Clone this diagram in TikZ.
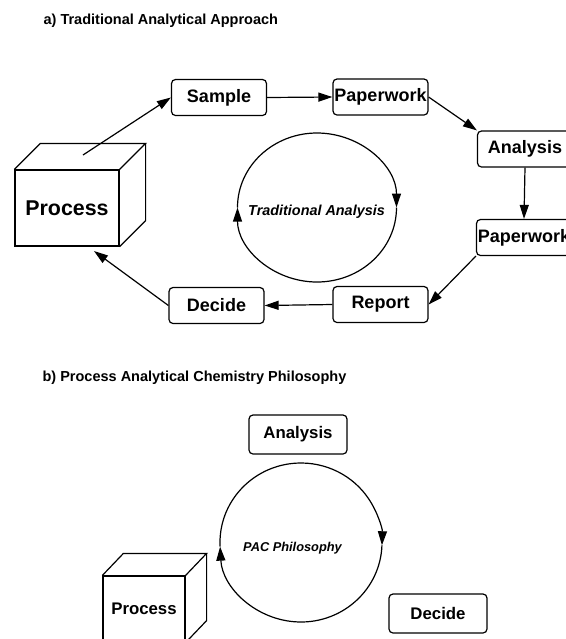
\documentclass[tikz,border=0pt]{standalone}
\usepackage{fontspec}
\setmainfont{Liberation Sans}
\usepackage{tikz}
\usetikzlibrary{arrows.meta,positioning,calc}

\begin{document}
\begin{tikzpicture}[x=0.5pt, y=0.5pt, line width=0.6pt,
            box/.style={draw, rectangle, rounded corners=2pt, minimum width=47.5pt, minimum height=18pt,
                 inner sep=0pt, align=center, font=\fontsize{9}{10}\selectfont\bfseries},
            boxb/.style={box, minimum width=49pt, minimum height=19.5pt, font=\fontsize{8.4}{10}\selectfont\bfseries},
            cube/.style={draw, rectangle, inner sep=0pt, font=\fontsize{10.7}{12}\selectfont\bfseries},
            title/.style={anchor=west, inner sep=0pt, font=\fontsize{7.25}{8}\selectfont\bfseries},
            loop/.style={inner sep=0pt, font=\fontsize{7.2}{8}\selectfont\bfseries\itshape},
            >={Triangle[length=7pt, width=4.5pt]}
            ]
            \path[use as bounding box, clip] (0,0) rectangle (566,-639);

            % a) traditional approach
            \node[title] (titlea) at (43,-20.5) {a) Traditional Analytical Approach};

            \node[cube, minimum width=52pt, minimum height=38pt] (proca) at (67,-208) {Process};
            \draw (proca.north west) -- ++(26,26) -- ($(proca.north east)+(26,26)$) -- (proca.north east);
            \draw ($(proca.north east)+(26,26)$) -- ($(proca.south east)+(26,26)$) -- (proca.south east);
            \coordinate (procatop) at (83,-155);
            \coordinate (procabot) at (94,-251);

            \node[box] (sample) at (219,-97.5) {Sample};
            \node[box] (papera) at (380.5,-97) {Paperwork};
            \node[box] (analysisa) at (525,-149) {Analysis};
            \node[box] (paperb) at (524,-237.5) {Paperwork};
            \node[box] (report) at (380.5,-304.5) {Report};
            \node[box] (decidea) at (216.5,-305.5) {Decide};

            % cycle in the middle
            \coordinate (ctra) at (317,-207.5);
            \node[loop] (trad) at (316.5,-212) {Traditional Analysis};
            \draw[->] ($(ctra)+(180:39.75pt and 37.25pt)$) arc[start angle=180, end angle=0, x radius=39.75pt, y radius=37.25pt];
            \draw[->] ($(ctra)+(0:39.75pt and 37.25pt)$) arc[start angle=0, end angle=-180, x radius=39.75pt, y radius=37.25pt];

            % Arrows
            \draw[->] (procatop) -- (sample.west);
            \draw[->] (sample.east) -- (papera.west);
            \draw[->] (papera.east) -- (analysisa.north west);
            \draw[->] (analysisa.south) -- (paperb.north);
            \draw[->] (paperb.south west) -- (report.east);
            \draw[->] (report.west) -- (decidea.east);
            \draw[->] (decidea.west) -- (procabot);

            % b) PAC philosophy
            \node[title] (titleb) at (42,-378) {b) Process Analytical Chemistry Philosophy};

            \node[boxb] (analysisb) at (298,-434.5) {Analysis};
            \node[boxb] (decideb) at (438,-613.5) {Decide};

            \node[cube, minimum width=41pt, minimum height=33pt, font=\fontsize{8.4}{10}\selectfont\bfseries] (procb) at (144,-609) {Process};
            \draw (procb.north west) -- ++(21,22) -- ($(procb.north east)+(21,22)$) -- (procb.north east);
            \draw ($(procb.north east)+(21,22)$) -- ($(procb.south east)+(21,22)$) -- (procb.south east);

            \coordinate (ctrb) at (301,-542.5);
            \node[loop, font=\fontsize{6.4}{8}\selectfont\bfseries\itshape] (pac) at (292.5,-548) {PAC Philosophy};
            \draw[->] ($(ctrb)+(183:40.5pt and 39.75pt)$) arc[start angle=183, end angle=-2, x radius=40.5pt, y radius=39.75pt];
            \draw[->] ($(ctrb)+(-2:40.5pt and 39.75pt)$) arc[start angle=-2, end angle=-177, x radius=40.5pt, y radius=39.75pt];
        \end{tikzpicture}
\end{document}
